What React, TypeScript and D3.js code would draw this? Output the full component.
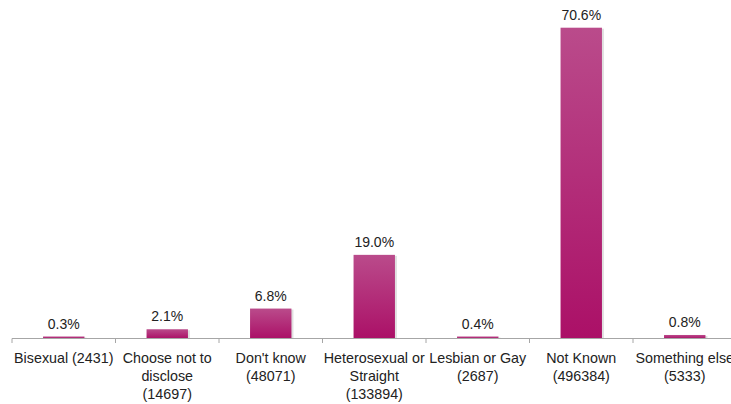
import React from "react";
import * as d3 from "d3";

const categories: string[] = [
  "Bisexual",
  "Choose not to disclose",
  "Don't know",
  "Heterosexual or Straight",
  "Lesbian or Gay",
  "Not Known",
  "Something else",
];
const counts: number[] = [2431, 14697, 48071, 133894, 2687, 496384, 5333];
const percents: number[] = [0.3, 2.1, 6.8, 19.0, 0.4, 70.6, 0.8];
const labelLines: string[][] = [
  ["Bisexual (2431)"],
  ["Choose not to", "disclose", "(14697)"],
  ["Don't know", "(48071)"],
  ["Heterosexual or", "Straight", "(133894)"],
  ["Lesbian or Gay", "(2687)"],
  ["Not Known", "(496384)"],
  ["Something else", "(5333)"],
];

const W = 731;
const H = 404;
const axisY = 338.5;
const font = "'Liberation Sans', Arial, Helvetica, sans-serif";

export default function App() {
  const x = d3
    .scaleBand<string>()
    .domain(categories)
    .range([12, 736.5])
    .paddingInner(0.6)
    .paddingOuter(0.3);
  const y = d3.scaleLinear().domain([0, 70.6]).range([axisY, 27.7]);
  const step = x.step();
  const tickXs = d3.range(categories.length + 1).map((i) => 12 + i * step);

  return (
    <svg
      width={W}
      height={H}
      style={{ position: "absolute", left: 0, top: 0, display: "block", background: "#fff" }}
    >
      <defs>
        <linearGradient id="barGrad" x1="0" y1="0" x2="0" y2="1">
          <stop offset="0%" stopColor="#ba4b8b" />
          <stop offset="100%" stopColor="#ab1067" />
        </linearGradient>
      </defs>
      {categories.map((c, i) => {
        const top = Math.min(y(percents[i]), axisY - 2);
        const bx = x(c) as number;
        return (
          <g key={c}>
            <rect x={bx + 1} y={top + 1} width={x.bandwidth() + 1} height={axisY - top - 1} fill="#000" opacity={0.12} />
            <rect x={bx} y={top} width={x.bandwidth()} height={axisY - top} fill="url(#barGrad)" />
            <text
              x={bx + x.bandwidth() / 2}
              y={top - 8}
              textAnchor="middle"
              fontFamily={font}
              fontSize={14}
              fill="#222"
            >
              {percents[i].toFixed(1)}%
            </text>
          </g>
        );
      })}
      <line x1={12} x2={W} y1={axisY} y2={axisY} stroke="#a6a6a6" strokeWidth={1} />
      {tickXs.map((tx, i) => (
        <line key={i} x1={tx} x2={tx} y1={axisY} y2={axisY + 4.5} stroke="#a6a6a6" strokeWidth={1} />
      ))}
      {categories.map((c, i) => (
        <text
          key={c}
          x={(x(c) as number) + x.bandwidth() / 2}
          textAnchor="middle"
          fontFamily={font}
          fontSize={14.3}
          fill="#222"
          data-count={counts[i]}
        >
          {labelLines[i].map((ln, j) => (
            <tspan key={j} x={(x(c) as number) + x.bandwidth() / 2} y={363 + j * 18}>
              {ln}
            </tspan>
          ))}
        </text>
      ))}
    </svg>
  );
}
